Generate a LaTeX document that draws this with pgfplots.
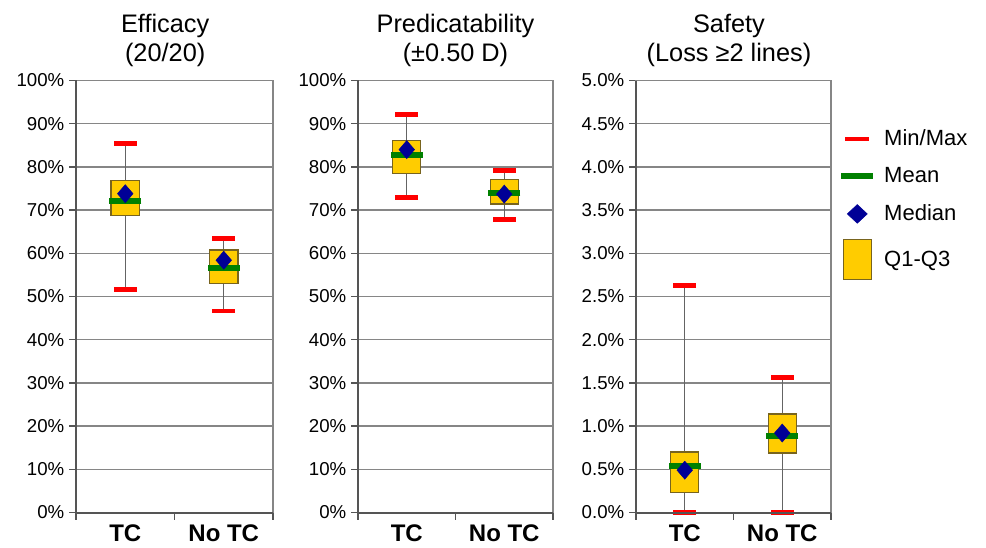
\documentclass[border=0pt]{standalone}
\usepackage{pgfplots}
\pgfplotsset{compat=1.18}
\usepackage{fontspec}
\setmainfont{Liberation Sans}
\definecolor{gridc}{RGB}{134,134,134}
\definecolor{axisc}{RGB}{85,85,85}
\definecolor{boxfill}{RGB}{255,204,0}
\definecolor{boxedge}{RGB}{120,100,30}
\definecolor{minmax}{RGB}{255,0,0}
\definecolor{meanc}{RGB}{0,128,0}
\definecolor{medc}{RGB}{0,0,150}
\definecolor{whisk}{RGB}{100,100,100}

\pgfplotsset{
  panel/.style={
    scale only axis, height=324pt,
    xmin=0, xmax=2, clip=false,
    xtick={0,1,2}, xticklabels={TC,No TC}, x tick label as interval,
    tick align=outside, major tick length=5.25pt,
    xtick pos=left, ytick pos=left,
    tick style={axisc, line width=1pt},
    ymajorgrids, major grid style={gridc, line width=1pt},
    axis line style={gridc, line width=1pt},
    xticklabel style={font=\fontsize{18}{20}\selectfont\bfseries, yshift=-0.5pt},
    yticklabel style={font=\fontsize{14}{16}\selectfont},
    /pgf/number format/assume math mode=true,
    title style={font=\fontsize{19}{22}\selectfont, align=center, anchor=south,
      at={(0.5,1)}, yshift=4pt, inner sep=0pt},
    after end axis/.code={\draw[axisc, line width=1.5pt] (rel axis cs:0,1) -- (rel axis cs:0,0) -- (rel axis cs:1,0);},
  },
  boxq/.style={forget plot, fill=boxfill, draw=boxedge, line width=1pt},
  whiskline/.style={forget plot, whisk, line width=1pt},
  meanmark/.style={forget plot, only marks, mark=-, mark size=12pt, mark options={solid, draw=meanc, line width=4.5pt}},
  medmark/.style={forget plot, only marks, mark=diamond*, mark size=6.75pt, mark options={solid, fill=medc, draw=medc, line width=0.4pt, xscale=1.15}},
  mmmark/.style={forget plot, only marks, mark=-, mark size=8.6pt, mark options={solid, draw=minmax, line width=3.4pt}},
}

\begin{document}
\begin{tikzpicture}
\useasboundingbox (0,0) rectangle (739.5pt,410.25pt);

% ---------- Efficacy ----------
\begin{axis}[panel, width=147.75pt, at={(57pt,25.875pt)}, anchor=south west,
  ymin=0, ymax=100, ytick={0,10,...,100},
  yticklabel={\pgfmathprintnumber{\tick}\%},
  title={Efficacy\\(20/20)}, title style={xshift=-7pt}]
\addplot[whiskline] coordinates {(0.5,51.6) (0.5,85.4)};
\addplot[whiskline] coordinates {(1.5,46.6) (1.5,63.4)};
\addplot[boxq] coordinates {(0.357,68.7) (0.643,68.7) (0.643,76.8) (0.357,76.8)} -- cycle;
\addplot[boxq] coordinates {(1.357,53.0) (1.643,53.0) (1.643,60.8) (1.357,60.8)} -- cycle;
\addplot[meanmark] coordinates {(0.5,72.1) (1.5,56.5)};
\addplot[medmark] coordinates {(0.5,73.8) (1.5,58.4)};
\addplot[mmmark] coordinates {(0.5,51.6) (0.5,85.4) (1.5,46.6) (1.5,63.4)};
\end{axis}

% ---------- Predicatability ----------
\begin{axis}[panel, width=146.25pt, at={(268.5pt,25.875pt)}, anchor=south west,
  ymin=0, ymax=100, ytick={0,10,...,100},
  yticklabel={\pgfmathprintnumber{\tick}\%},
  title={Predicatability\\(±0.50 D)}]
\addplot[whiskline] coordinates {(0.5,72.9) (0.5,92.1)};
\addplot[whiskline] coordinates {(1.5,67.8) (1.5,79.2)};
\addplot[boxq] coordinates {(0.357,78.4) (0.643,78.4) (0.643,86.1) (0.357,86.1)} -- cycle;
\addplot[boxq] coordinates {(1.357,71.4) (1.643,71.4) (1.643,77.1) (1.357,77.1)} -- cycle;
\addplot[meanmark] coordinates {(0.5,82.8) (1.5,74.0)};
\addplot[medmark] coordinates {(0.5,84.0) (1.5,73.7)};
\addplot[mmmark] coordinates {(0.5,72.9) (0.5,92.1) (1.5,67.8) (1.5,79.2)};
\end{axis}

% ---------- Safety ----------
\begin{axis}[panel, width=146.25pt, at={(477pt,25.875pt)}, anchor=south west,
  ymin=0, ymax=5, ytick={0,0.5,...,5},
  yticklabel={\pgfmathprintnumber[fixed, fixed zerofill, precision=1]{\tick}\%},
  title={Safety\\(Loss ≥2 lines)}, title style={xshift=-3.4pt},
  legend style={at={(1.036,0.909)}, anchor=north west, draw=none, fill=none,
    font=\fontsize{16.5}{18}\selectfont, row sep=0pt, inner sep=0pt},
  legend cell align=left]
\addlegendimage{legend image code/.code={\path (0pt,-13.875pt) (30pt,13.875pt);
  \draw[minmax, line width=3.4pt] (3pt,0pt) -- (21pt,0pt);}}
\addlegendentry{Min/Max}
\addlegendimage{legend image code/.code={\path (0pt,-13.875pt) (30pt,13.875pt);
  \draw[meanc, line width=4.5pt] (0pt,0pt) -- (24pt,0pt);}}
\addlegendentry{Mean}
\addlegendimage{legend image code/.code={\path (0pt,-13.875pt) (30pt,13.875pt);
  \fill[medc] (12pt,7pt) -- (19.5pt,0pt) -- (12pt,-7pt) -- (4.5pt,0pt) -- cycle;}}
\addlegendentry{Median}
\addlegendimage{legend image code/.code={\path (0pt,-19.875pt) (30pt,19.875pt);
  \draw[fill=boxfill, draw=boxedge, line width=1pt] (1.5pt,-15pt) rectangle (22.5pt,15pt);}}
\addlegendentry{Q1-Q3}
\addplot[whiskline] coordinates {(0.5,0) (0.5,2.63)};
\addplot[whiskline] coordinates {(1.5,0) (1.5,1.56)};
\addplot[boxq] coordinates {(0.357,0.23) (0.643,0.23) (0.643,0.70) (0.357,0.70)} -- cycle;
\addplot[boxq] coordinates {(1.357,0.69) (1.643,0.69) (1.643,1.14) (1.357,1.14)} -- cycle;
\addplot[meanmark] coordinates {(0.5,0.54) (1.5,0.88)};
\addplot[medmark] coordinates {(0.5,0.49) (1.5,0.92)};
\addplot[mmmark] coordinates {(0.5,0) (0.5,2.63) (1.5,0) (1.5,1.56)};
\end{axis}
\end{tikzpicture}
\end{document}
